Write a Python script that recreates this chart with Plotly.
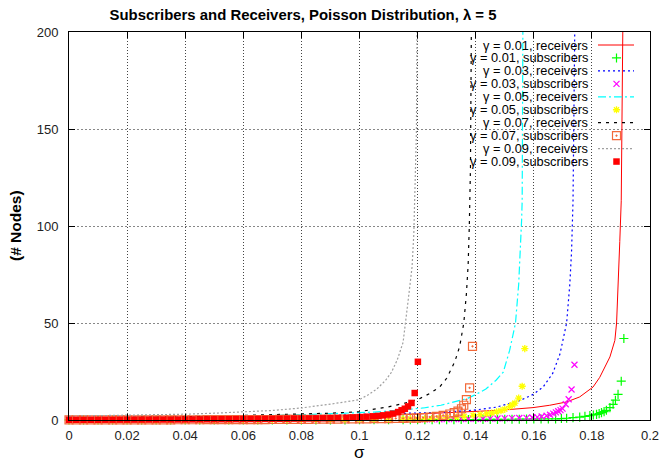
import plotly.graph_objects as go

# ---------------- data ----------------
# receivers curves (sigma, #nodes)
rx_001 = [0, 0.02, 0.04, 0.06, 0.08, 0.1, 0.116, 0.1334, 0.1483, 0.1598, 0.1655, 0.1713, 0.1758, 0.1804,
          0.1827, 0.1862, 0.1879, 0.1885, 0.189, 0.1896, 0.1901, 0.1905, 0.1908, 0.191]
ry_001 = [0.5, 0.6, 0.8, 1.1, 1.5, 2.1, 2.8, 4.0, 5.0, 6.4, 7.6, 9.3, 11.9, 17,
          22, 32.5, 41, 50, 66, 92, 113, 150, 200, 260]

rx_003 = [0, 0.02, 0.04, 0.06, 0.08, 0.093, 0.105, 0.1276, 0.139, 0.147, 0.1552, 0.1598, 0.1632, 0.1665,
          0.169, 0.1713, 0.1724, 0.1730, 0.1735, 0.1739, 0.1742, 0.1745]
ry_003 = [0.7, 0.9, 1.2, 1.6, 2.1, 2.6, 3.1, 3.9, 5.0, 6.6, 10.0, 13.2, 17, 24,
          34, 50, 70, 87, 113, 150, 200, 260]

rx_005 = [0, 0.02, 0.04, 0.06, 0.08, 0.093, 0.105, 0.115, 0.122, 0.128, 0.1335, 0.137, 0.1405, 0.1435,
          0.147, 0.1495, 0.1517, 0.1537, 0.1548, 0.1554, 0.1558, 0.156, 0.1562, 0.1564]
ry_005 = [0.9, 1.2, 1.5, 2.0, 2.7, 3.3, 4.1, 5.2, 6.2, 7.6, 9.5, 11, 13.5, 16,
          20.5, 24.7, 36, 50, 70, 87, 103, 113, 200, 260]

rx_007 = [0, 0.01, 0.02, 0.03, 0.04, 0.05, 0.06, 0.07, 0.08, 0.09, 0.1, 0.105, 0.11, 0.115, 0.12, 0.124,
          0.1276, 0.13, 0.1328, 0.1345, 0.1359, 0.1368, 0.1374, 0.1378, 0.1382, 0.1385, 0.1387]
ry_007 = [1.0, 1.1, 1.3, 1.5, 1.7, 2.0, 2.3, 2.6, 3.0, 3.5, 4.3, 5.5, 6.8, 8.5, 10.5, 13.5,
          17, 21.5, 30, 38, 50, 65, 80, 100, 130, 200, 260]

rx_009 = [0, 0.01, 0.02, 0.03, 0.04, 0.05, 0.06, 0.07, 0.08, 0.085, 0.09, 0.095, 0.1, 0.103, 0.106, 0.109,
          0.111, 0.113, 0.115, 0.1167, 0.1175, 0.1181, 0.1187, 0.119, 0.1193, 0.1196, 0.1198, 0.1200]
ry_009 = [2.0, 2.2, 2.4, 2.7, 3.0, 3.5, 4.1, 4.9, 6.2, 7.1, 8.2, 9.3, 10.5, 13, 16, 20.5,
          24.6, 31, 40, 61, 70, 79, 96, 113, 128, 149, 200, 240]

# subscribers points (sigma, #nodes)
sx_001 = [0, 0.005, 0.01, 0.015, 0.02, 0.025, 0.03, 0.035, 0.04, 0.045, 0.05, 0.055, 0.06, 0.065, 0.07,
          0.075, 0.08, 0.085, 0.09, 0.095, 0.1, 0.105, 0.11, 0.115,
          0.1175, 0.12, 0.1225, 0.125, 0.1275, 0.13, 0.1325, 0.135, 0.1375, 0.14, 0.1425, 0.145, 0.1475,
          0.15, 0.1525, 0.155, 0.1575, 0.16, 0.1625, 0.165,
          0.1675, 0.1695, 0.1713, 0.1735, 0.1758, 0.1776, 0.1793, 0.1805, 0.1816, 0.1825, 0.1833, 0.1842,
          0.1850, 0.1862, 0.1873, 0.1881, 0.1890, 0.1901, 0.1910]
sy_001 = [0.01, 0.01, 0.01, 0.01, 0.02, 0.02, 0.02, 0.02, 0.03, 0.03,
          0.03, 0.04, 0.04, 0.05, 0.05, 0.06, 0.07, 0.07, 0.08, 0.09,
          0.1, 0.11, 0.12, 0.13, 0.14, 0.15, 0.16, 0.17, 0.18, 0.2,
          0.21, 0.23, 0.25, 0.27, 0.29, 0.31, 0.33, 0.36, 0.39, 0.42,
          0.45, 0.48, 0.52, 0.56,
          0.6, 0.75, 0.9, 1.2, 1.5, 1.9, 2.3, 2.6, 2.9, 3.3, 3.8, 4.3,
          5.0, 6.4, 8.1, 10.2, 13.2, 20, 42]

sx_003 = [0, 0.005, 0.01, 0.015, 0.02, 0.025, 0.03, 0.035, 0.04, 0.045, 0.05, 0.055, 0.06, 0.065, 0.07,
          0.075, 0.08, 0.085, 0.09, 0.095, 0.1, 0.105, 0.11, 0.115,
          0.1175, 0.12, 0.1225, 0.125, 0.1275, 0.13, 0.1325, 0.135, 0.1375, 0.14, 0.1425, 0.145, 0.1475,
          0.15, 0.1525, 0.155,
          0.1575, 0.1595, 0.1612, 0.1627, 0.1644, 0.1656, 0.1667, 0.1676, 0.1684, 0.1692, 0.1699, 0.1710,
          0.1720, 0.1730, 0.1740]
sy_003 = [0.02, 0.02, 0.02, 0.03, 0.03, 0.03, 0.04, 0.04, 0.05, 0.05,
          0.06, 0.06, 0.07, 0.08, 0.09, 0.1, 0.11, 0.12, 0.13, 0.15,
          0.17, 0.19, 0.21, 0.23, 0.25, 0.28, 0.31, 0.34, 0.37, 0.41,
          0.45, 0.5, 0.55, 0.6, 0.66, 0.72, 0.79, 0.86, 0.94, 1.02,
          1.1, 1.3, 1.5, 1.8, 2.2, 2.7, 3.3, 3.9, 4.5, 5.1, 5.9, 8.1,
          10.7, 15.7, 28.5]

sx_005 = [0, 0.005, 0.01, 0.015, 0.02, 0.025, 0.03, 0.035, 0.04, 0.045, 0.05, 0.055, 0.06, 0.065, 0.07,
          0.075, 0.08, 0.085, 0.09, 0.095, 0.1, 0.105, 0.11, 0.115,
          0.1175, 0.12, 0.1225, 0.125,
          0.1276, 0.130, 0.1334, 0.136, 0.1391, 0.1415, 0.1437, 0.1455, 0.1472, 0.1487, 0.1500, 0.1517,
          0.1526, 0.1535, 0.1548, 0.1560, 0.1569]
sy_005 = [0.03, 0.03, 0.04, 0.04, 0.05, 0.05, 0.06, 0.07, 0.08, 0.09,
          0.1, 0.11, 0.13, 0.15, 0.17, 0.19, 0.22, 0.25, 0.28, 0.32,
          0.36, 0.4, 0.45, 0.5, 0.53, 0.56, 0.6, 0.64,
          1.0, 1.2, 1.5, 1.9, 2.4, 2.8, 3.2, 3.6, 4.2, 4.8, 5.5, 6.9,
          7.8, 8.7, 11.3, 17.4, 36.8]

sx_007 = [0, 0.0025, 0.005, 0.0075, 0.01, 0.0125, 0.015, 0.0175, 0.02, 0.0225, 0.025, 0.0275, 0.03,
          0.0325, 0.035, 0.0375, 0.04, 0.0425, 0.045, 0.0475, 0.05, 0.0525, 0.055, 0.0575, 0.06, 0.0625,
          0.065, 0.0675, 0.07, 0.0725, 0.075, 0.0775, 0.08, 0.0825, 0.085, 0.0875, 0.09, 0.0925, 0.095,
          0.0975, 0.1, 0.1025, 0.105, 0.1075, 0.11, 0.1125, 0.115, 0.1175,
          0.1196, 0.1219, 0.1242, 0.1265, 0.1288, 0.1311, 0.1326, 0.1339, 0.1351, 0.1359, 0.1368, 0.1379,
          0.1389]
sy_007 = [0.05, 0.05, 0.05, 0.06, 0.06, 0.06, 0.07, 0.07, 0.08, 0.08,
          0.09, 0.09, 0.1, 0.1, 0.11, 0.12, 0.12, 0.13, 0.14, 0.15,
          0.16, 0.17, 0.18, 0.19, 0.2, 0.21, 0.23, 0.24, 0.26, 0.28,
          0.3, 0.32, 0.34, 0.36, 0.39, 0.42, 0.45, 0.48, 0.51, 0.55,
          0.59, 0.63, 0.67, 0.71, 0.76, 0.81, 0.86, 0.92,
          1.0, 1.2, 1.5, 1.9, 2.4, 3.1, 3.8, 4.6, 5.8, 7.6, 10.5, 16.6, 38]

sx_009 = [0, 0.0025, 0.005, 0.0075, 0.01, 0.0125, 0.015, 0.0175, 0.02, 0.0225, 0.025, 0.0275, 0.03,
          0.0325, 0.035, 0.0375, 0.04, 0.0425, 0.045, 0.0475, 0.05, 0.0525, 0.055, 0.0575, 0.06, 0.0625,
          0.065, 0.0675, 0.07, 0.0725, 0.075, 0.0775, 0.08, 0.0825, 0.085, 0.0875, 0.09,
          0.0925, 0.0955, 0.0978, 0.1001, 0.1024, 0.1047, 0.1064, 0.1081, 0.1098, 0.1116, 0.1133, 0.1145,
          0.1156, 0.1167, 0.1179, 0.1190, 0.1201]
sy_009 = [0.12, 0.12, 0.13, 0.13, 0.14, 0.15, 0.16, 0.17, 0.18, 0.19,
          0.2, 0.21, 0.22, 0.23, 0.25, 0.26, 0.28, 0.3, 0.32, 0.34,
          0.36, 0.38, 0.4, 0.43, 0.46, 0.49, 0.52, 0.55, 0.59, 0.63,
          0.67, 0.71, 0.75, 0.79, 0.83, 0.87, 0.92,
          0.97, 1.1, 1.3, 1.5, 1.7, 1.9, 2.1, 2.4, 2.8, 3.3, 4.1, 5.0,
          5.8, 7.0, 8.8, 13.9, 30]

legend_labels = ["γ = 0.01, receivers", "γ = 0.01, subscribers",
                 "γ = 0.03, receivers", "γ = 0.03, subscribers",
                 "γ = 0.05, receivers", "γ = 0.05, subscribers",
                 "γ = 0.07, receivers", "γ = 0.07, subscribers",
                 "γ = 0.09, receivers", "γ = 0.09, subscribers"]

x_ticks = [0, 0.02, 0.04, 0.06, 0.08, 0.1, 0.12, 0.14, 0.16, 0.18, 0.2]
x_tick_text = ["0", "0.02", "0.04", "0.06", "0.08", "0.1", "0.12", "0.14", "0.16", "0.18", "0.2"]
y_ticks = [0, 50, 100, 150, 200]

# ---------------- styles ----------------
FONT = "Liberation Sans, Arial, Helvetica, sans-serif"
ORANGE = "#f26a3a"
styles = [
    ("line", dict(color="#ff0000", width=1, dash="solid")),
    ("marker", dict(symbol="cross-thin-open", size=6.5, color="#00ff00", line=dict(color="#00ff00", width=1.2))),
    ("line", dict(color="#0000ff", width=1.2, dash="2px,3px")),
    ("marker", dict(symbol="x-thin-open", size=6, color="#ff00ff", line=dict(color="#ff00ff", width=1.2))),
    ("line", dict(color="#00ffff", width=1.2, dash="8px,3px,2px,3px")),
    ("marker", dict(symbol="asterisk-open", size=6, color="#ffff00", line=dict(color="#ffff00", width=1.3))),
    ("line", dict(color="#000000", width=1.2, dash="3px,5px")),
    ("marker", dict(symbol="square-open-dot", size=8, color=ORANGE, line=dict(color=ORANGE, width=1.2))),
    ("line", dict(color="#a0a0a0", width=1.2, dash="2px,2px")),
    ("marker", dict(symbol="square", size=6.5, color="#ff0000", line=dict(width=0))),
]
series = [(rx_001, ry_001), (sx_001, sy_001), (rx_003, ry_003), (sx_003, sy_003),
          (rx_005, ry_005), (sx_005, sy_005), (rx_007, ry_007), (sx_007, sy_007),
          (rx_009, ry_009), (sx_009, sy_009)]

fig = go.Figure()
for (xs, ys), (kind, st), name in zip(series, styles, legend_labels):
    if kind == "line":
        fig.add_trace(go.Scatter(x=xs, y=ys, mode="lines", line=st, name=name,
                                 showlegend=False, hoverinfo="skip"))
    else:
        fig.add_trace(go.Scatter(x=xs, y=ys, mode="markers", marker=st, name=name,
                                 showlegend=False, hoverinfo="skip", cliponaxis=False))

# ---------------- gnuplot-style key (text right, sample left) ----------------
W, H = 660, 462
ML, MR, MT, MB = 69, 10, 32, 42
PW, PH = W - ML - MR, H - MT - MB
def px_x(p):
    return (p - ML) / PW
def px_y(p):
    return 1 - (p - MT) / PH

key_text_right = 589
key_row0, key_row_step = 45, 12.95
key_line = (598, 634)
key_mark = 616.5

annotations = []
for i, ((kind, st), name) in enumerate(zip(styles, legend_labels)):
    yy = px_y(key_row0 + i * key_row_step)
    annotations.append(dict(x=px_x(key_text_right), y=yy, xref="paper", yref="paper",
                            text=name, showarrow=False, xanchor="right", yanchor="middle",
                            borderpad=0, font=dict(family=FONT, size=12.8, color="#000")))
    if kind == "line":
        fig.add_trace(go.Scatter(x=[px_x(key_line[0]), px_x(key_line[1])], y=[yy, yy],
                                 xaxis="x2", yaxis="y2", mode="lines", line=st,
                                 showlegend=False, hoverinfo="skip"))
    else:
        fig.add_trace(go.Scatter(x=[px_x(key_mark)], y=[yy], xaxis="x2", yaxis="y2",
                                 mode="markers", marker=st, showlegend=False,
                                 hoverinfo="skip", cliponaxis=False))

annotations.append(dict(x=px_x(15), y=px_y(226), xref="paper", yref="paper", text="<b>(# Nodes)</b>",
                        textangle=-90, showarrow=False, xanchor="center", yanchor="middle",
                        font=dict(family=FONT, size=15.5, color="#000")))
annotations.append(dict(x=px_x(359), y=px_y(452), xref="paper", yref="paper", text="σ",
                        showarrow=False, xanchor="center", yanchor="middle",
                        font=dict(family=FONT, size=17, color="#000")))

axis_common = dict(showline=True, linecolor="#000", linewidth=1, mirror="ticks",
                   ticks="inside", ticklen=6, tickcolor="#000", tickwidth=1,
                   showgrid=True, gridwidth=1, zeroline=False, automargin=False,
                   tickfont=dict(family=FONT, size=13, color="#222"))

fig.update_layout(
    width=W, height=H, autosize=False,
    margin=dict(l=ML, r=MR, t=MT, b=MB, autoexpand=False),
    paper_bgcolor="white", plot_bgcolor="white",
    title=dict(text="<b>Subscribers and Receivers, Poisson Distribution, λ = 5</b>",
               x=303 / W, xanchor="center", xref="container",
               y=1 - 15 / H, yanchor="middle", yref="container",
               font=dict(family=FONT, size=14.9, color="#000")),
    xaxis=dict(range=[0, 0.2], tickvals=x_ticks, ticktext=x_tick_text,
               ticklabelstandoff=3, gridcolor="#444", griddash="1px,2px", **axis_common),
    yaxis=dict(range=[0, 200], tickvals=y_ticks, ticklabelstandoff=7,
               gridcolor="#888", griddash="2px,2px", **axis_common),
    xaxis2=dict(overlaying="x", range=[0, 1], visible=False, fixedrange=True),
    yaxis2=dict(overlaying="y", range=[0, 1], visible=False, fixedrange=True),
    annotations=annotations,
    shapes=[dict(type="rect", xref="paper", yref="paper", x0=px_x(427), x1=1,
                 y0=px_y(167), y1=1, fillcolor="white", line=dict(width=0), layer="between")],
    showlegend=False,
)

fig.write_html("out.html", config={"displayModeBar": False},
               post_script="document.body.style.margin='0';document.body.style.overflow='hidden';")
